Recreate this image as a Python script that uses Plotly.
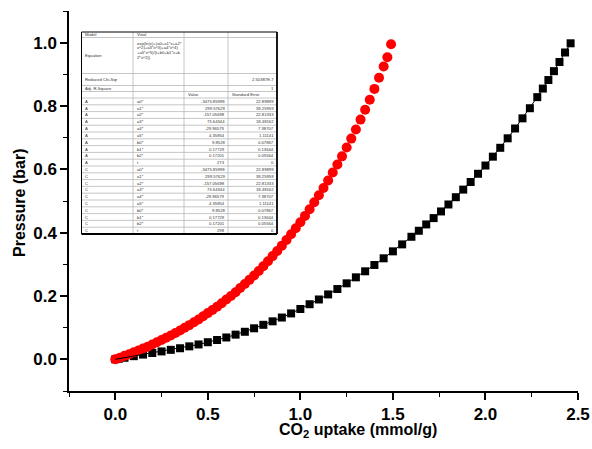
import plotly.graph_objects as go

# ---------------- data ----------------
red_x = [0.000, 0.025, 0.050, 0.075, 0.100, 0.125, 0.150, 0.175, 0.200, 0.225,
         0.250, 0.275, 0.300, 0.325, 0.350, 0.375, 0.400, 0.425, 0.450, 0.475,
         0.500, 0.525, 0.550, 0.575, 0.600, 0.625, 0.650, 0.675, 0.700, 0.725,
         0.750, 0.775, 0.800, 0.825, 0.850, 0.875, 0.900, 0.925, 0.950, 0.975,
         1.000, 1.025, 1.050, 1.075, 1.100, 1.125, 1.150, 1.175, 1.200, 1.225,
         1.250, 1.275, 1.300, 1.325, 1.350, 1.375, 1.400, 1.425, 1.450, 1.470,
         1.490]
red_y = [0.000, 0.005, 0.011, 0.016, 0.022, 0.028, 0.034, 0.040, 0.047, 0.054,
         0.061, 0.068, 0.075, 0.083, 0.091, 0.100, 0.108, 0.117, 0.126, 0.136,
         0.146, 0.156, 0.166, 0.177, 0.189, 0.200, 0.212, 0.225, 0.238, 0.251,
         0.265, 0.279, 0.294, 0.310, 0.326, 0.342, 0.359, 0.377, 0.395, 0.414,
         0.433, 0.453, 0.474, 0.496, 0.518, 0.541, 0.565, 0.590, 0.615, 0.641,
         0.669, 0.697, 0.726, 0.757, 0.788, 0.820, 0.854, 0.889, 0.925, 0.954,
         0.995]

black_x = [0.00, 0.02, 0.05, 0.10, 0.15, 0.20, 0.25, 0.30, 0.35, 0.40,
           0.45, 0.50, 0.55, 0.60, 0.65, 0.70, 0.75, 0.80, 0.85, 0.90,
           0.95, 1.00, 1.05, 1.10, 1.15, 1.20, 1.25, 1.30, 1.35, 1.40,
           1.45, 1.50, 1.55, 1.60, 1.64, 1.68, 1.72, 1.76, 1.80, 1.84,
           1.88, 1.92, 1.96, 2.00, 2.04, 2.08, 2.12, 2.16, 2.20, 2.24,
           2.28, 2.31, 2.34, 2.37, 2.40, 2.43, 2.46]
black_y = [0.000, 0.002, 0.005, 0.010, 0.015, 0.020, 0.025, 0.030, 0.035, 0.041,
           0.047, 0.054, 0.061, 0.069, 0.078, 0.087, 0.098, 0.109, 0.120, 0.132,
           0.145, 0.159, 0.174, 0.189, 0.205, 0.222, 0.240, 0.259, 0.278, 0.298,
           0.319, 0.341, 0.363, 0.387, 0.406, 0.426, 0.446, 0.467, 0.489, 0.512,
           0.536, 0.560, 0.586, 0.612, 0.640, 0.668, 0.698, 0.729, 0.761, 0.793,
           0.828, 0.855, 0.882, 0.910, 0.939, 0.969, 0.998]

x_tickvals = [0.0, 0.5, 1.0, 1.5, 2.0, 2.5]
x_ticktext = ["0.0", "0.5", "1.0", "1.5", "2.0", "2.5"]
y_tickvals = [0.0, 0.2, 0.4, 0.6, 0.8, 1.0]
y_ticktext = ["0.0", "0.2", "0.4", "0.6", "0.8", "1.0"]

# fit-report table content
tbl_head = [("Model", "Virial", "", ""),
            ("Equation", "", "", ""),
            ("Reduced Chi-Sqr", "", "", "2.50387E-7"),
            ("Adj. R-Square", "", "", "1"),
            ("", "", "Value", "Standard Error")]
equation_lines = ["exp(ln(x)+(a0+a1*x+a2*", "x^2)+a3*x^3)+a4*x^4)",
                  "+a5*x^5)/(t+b0+b1*x+b", "2*x^2))"]
param_names = ["a0*", "a1*", "a2*", "a3*", "a4*", "a5*", "b0*", "b1*", "b2*", "t"]
param_vals = ["-3475.85998", "299.57629", "-157.05698", "73.64344", "-29.96579",
              "4.35854", "9.8528", "0.17729", "0.17201", None]
param_errs = ["22.89899", "39.25959", "22.81333", "18.48162", "7.38707",
              "1.11141", "0.07867", "0.13644", "0.05564", "0"]
groups = [("A", "273"), ("C", "298")]

# ---------------- figure ----------------
W, H = 592, 449
L, R, T, B = 69, 578, 11, 391

fig = go.Figure()
fig.add_trace(go.Scatter(x=black_x, y=black_y, mode="markers",
                         marker=dict(symbol="square", size=8, color="black"),
                         showlegend=False))
fig.add_trace(go.Scatter(x=red_x, y=red_y, mode="markers",
                         marker=dict(symbol="circle", size=10, color="#ff0000"),
                         showlegend=False))
fig.add_trace(go.Scatter(x=black_x, y=black_y, mode="lines",
                         line=dict(color="black", width=1),
                         showlegend=False))

def fx(px):
    return (px - L) / (R - L)

def fy(py):
    return (B - py) / (B - T)

shapes = []
annotations = []

# table geometry (pixels)
cols = [81.5, 133, 184, 228, 277]
row_edges = [32, 37.5, 73.5, 85.5, 91.5, 98]
for i in range(20):
    row_edges.append(98 + (i + 1) * 6.8)

def rect(x0, y0, x1, y1, **kw):
    shapes.append(dict(type="rect", xref="paper", yref="paper",
                       x0=fx(x0), x1=fx(x1), y0=fy(y0), y1=fy(y1), **kw))

def line(x0, y0, x1, y1, color, width):
    shapes.append(dict(type="line", xref="paper", yref="paper",
                       x0=fx(x0), x1=fx(x1), y0=fy(y0), y1=fy(y1),
                       line=dict(color=color, width=width)))

rect(cols[0], row_edges[0], cols[-1], row_edges[-1], fillcolor="white",
     line=dict(width=0), layer="above")
for ye in row_edges[1:-1]:
    line(cols[0], ye, cols[-1], ye, "#b8b8b8", 0.8)
for xe in cols[1:-1]:
    line(xe, row_edges[0], xe, row_edges[-1], "#b8b8b8", 0.8)
line(cols[0], row_edges[0], cols[-1], row_edges[0], "black", 1)
line(cols[0], row_edges[0], cols[0], row_edges[-1], "black", 1)
line(cols[-1], row_edges[0], cols[-1], row_edges[-1], "black", 1.8)
line(cols[0], row_edges[-1], cols[-1], row_edges[-1], "black", 1.8)

TF = dict(family="Liberation Sans, Arial, sans-serif", size=4.2, color="#333333")

def txt(px, py, s, anchor="left", yanchor="middle"):
    annotations.append(dict(xref="paper", yref="paper", x=fx(px), y=fy(py),
                            text=s, showarrow=False, xanchor=anchor,
                            yanchor=yanchor, font=TF))

for r, row in enumerate(tbl_head):
    yc = (row_edges[r] + row_edges[r + 1]) / 2
    if row[0]:
        txt(cols[0] + 1.5, yc, row[0])
    if row[1]:
        txt(cols[1] + 1.5, yc, row[1])
    if r == 4:
        txt(cols[2] + 1.5, yc, row[2])
        txt(cols[3] + 1.5, yc, row[3])
    elif row[3]:
        if r == 2:
            txt(cols[4] - 1.5, row_edges[r] + 1.2, row[3], anchor="right", yanchor="top")
        else:
            txt(cols[4] - 1.5, yc, row[3], anchor="right")

for k, ln in enumerate(equation_lines):
    txt(cols[1] + 1.5, 43.3 + k * 4.7, ln)

r = 5
for gname, temp in groups:
    for i, pn in enumerate(param_names):
        yc = (row_edges[r] + row_edges[r + 1]) / 2
        txt(cols[0] + 1.5, yc, gname)
        txt(cols[1] + 1.5, yc, pn)
        v = param_vals[i] if param_vals[i] is not None else temp
        txt(cols[3] - 1.5, yc, v, anchor="right")
        txt(cols[4] - 1.5, yc, param_errs[i], anchor="right")
        r += 1

# axis titles
AF = dict(family="Liberation Sans, Arial, sans-serif", size=16, color="black")
annotations.append(dict(xref="paper", yref="paper", x=fx(358), y=fy(431),
                        text="<b>CO<sub>2</sub> uptake (mmol/g)</b>", showarrow=False,
                        xanchor="center", yanchor="middle", font=AF))
annotations.append(dict(xref="paper", yref="paper", x=fx(19), y=fy(203),
                        text="<b>Pressure (bar)</b>", showarrow=False, textangle=-90,
                        xanchor="center", yanchor="middle", font=AF))

TICKF = dict(family="Liberation Sans, Arial, sans-serif", size=17, color="black")
fig.update_layout(
    width=W, height=H,
    margin=dict(l=L, r=W - R, t=T, b=H - B, pad=0, autoexpand=False),
    paper_bgcolor="white", plot_bgcolor="white",
    shapes=shapes, annotations=annotations,
    xaxis=dict(range=[-0.25, 2.5], tickvals=x_tickvals,
               ticktext=["<b>%s</b>" % t for t in x_ticktext], automargin=False,
               showgrid=False, zeroline=False, showline=True, linecolor="black",
               linewidth=1.5, ticks="outside", ticklen=7, tickwidth=1.5,
               tickcolor="black", tickfont=TICKF,
               minor=dict(dtick=0.25, tick0=0, ticks="outside", ticklen=4,
                          tickwidth=1.2, tickcolor="black", showgrid=False)),
    yaxis=dict(range=[-0.1, 1.1], tickvals=y_tickvals,
               ticktext=["<b>%s</b>" % t for t in y_ticktext], automargin=False,
               showgrid=False, zeroline=False, showline=True, linecolor="black",
               linewidth=1.5, ticks="outside", ticklen=7, tickwidth=1.5,
               tickcolor="black", tickfont=TICKF,
               minor=dict(dtick=0.1, tick0=0, ticks="outside", ticklen=4,
                          tickwidth=1.2, tickcolor="black", showgrid=False)),
)

fig.write_html("out.html", config={"displayModeBar": False},
               post_script="document.body.style.margin='0';document.body.style.padding='0';")
